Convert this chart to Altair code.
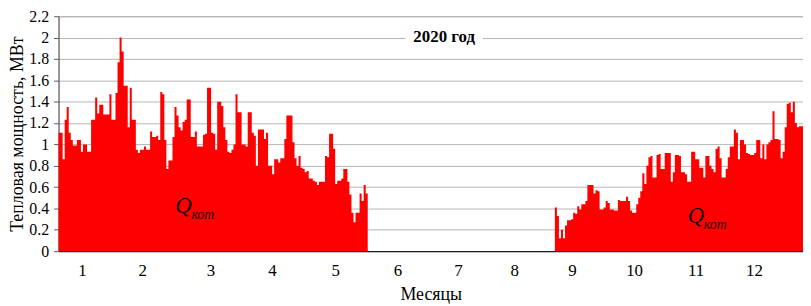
import altair as alt
import pandas as pd

# ---- data (daily heat output, MW, 2020) ----
month_days = [31, 29, 31, 30, 31, 30, 31, 31, 30, 31, 30, 31]

jan = [1.11, 1.11, 0.86, 1.23, 1.35, 1.11, 1.04, 0.99, 0.99, 1.04,
       1.04, 0.93, 1.00, 1.00, 0.93, 0.93, 1.23, 1.23, 1.44, 1.29,
       1.37, 1.37, 1.28, 1.28, 1.28, 1.47, 1.23, 1.23, 1.48, 1.77,
       2.00]
feb = [1.87, 1.55, 1.55, 1.16, 1.53, 1.23, 1.23, 0.95, 0.92,
       0.95, 0.95, 0.98, 0.95, 0.95, 1.12, 1.07, 1.07, 1.08, 1.04,
       1.49, 1.47, 1.04, 0.77, 0.85, 0.85, 1.07, 1.35, 1.27, 1.16]
mar = [1.13, 1.21, 1.23, 1.42, 1.42, 1.07, 1.07, 1.12, 0.98, 0.98,
       0.98, 1.09, 1.10, 1.53, 1.53, 1.11, 1.10, 0.95, 1.40, 1.40,
       1.36, 1.16, 1.04, 0.93, 0.92, 0.95, 1.00, 1.47, 1.30, 1.30,
       1.00]
apr = [1.00, 0.98, 1.30, 1.30, 1.11, 1.08, 0.80, 1.14, 1.14,
       1.14, 1.05, 1.11, 0.80, 0.80, 0.72, 0.86, 0.86, 0.83, 0.87,
       0.87, 1.05, 1.27, 1.27, 1.27, 1.02, 0.87, 0.80, 0.89, 0.78,
       0.77]
may = [0.74, 0.75, 0.68, 0.68, 0.66, 0.65, 0.62, 0.65, 0.65,
       0.65, 0.89, 0.88, 1.10, 1.10, 0.96, 0.63, 0.66, 0.66, 0.68,
       0.77, 0.77, 0.65, 0.53, 0.36, 0.27, 0.36, 0.36, 0.54, 0.47,
       0.62, 0.54]
sep = [0.41, 0.33, 0.12, 0.20, 0.12, 0.24,
       0.29, 0.29, 0.30, 0.36, 0.35, 0.42, 0.39, 0.44, 0.44, 0.47,
       0.62, 0.62, 0.62, 0.54, 0.57, 0.56, 0.39, 0.39, 0.41, 0.47,
       0.45, 0.39, 0.39, 0.38]
oct_ = [0.38, 0.48, 0.47, 0.47, 0.47, 0.51,
        0.47, 0.38, 0.36, 0.36, 0.44, 0.50, 0.56, 0.73, 0.63, 0.80,
        0.88, 0.89, 0.69, 0.69, 0.90, 0.91, 0.77, 0.77, 0.92, 0.92,
        0.92, 0.65, 0.74, 0.90, 0.90]
nov = [0.89, 0.74, 0.74, 0.72, 0.65,
       0.65, 0.93, 0.93, 0.86, 0.86, 0.78, 0.78, 0.69, 0.89, 0.89,
       0.80, 0.77, 0.74, 0.96, 0.98, 0.87, 0.69, 0.69, 0.77, 0.88,
       0.98, 0.98, 1.14, 1.11, 0.86]
dec = [1.04, 1.04, 1.00, 0.92, 0.91,
       0.90, 0.90, 0.92, 1.04, 1.04, 0.87, 1.00, 0.86, 1.00, 1.02,
       1.04, 1.31, 1.05, 1.05, 1.04, 0.87, 0.93, 1.16, 1.38, 1.39,
       1.30, 1.40, 1.20, 1.16, 1.17, 1.17]

heating = {1: jan, 2: feb, 3: mar, 4: apr, 5: may, 9: sep, 10: oct_, 11: nov, 12: dec}
season_of = {1: "spring", 2: "spring", 3: "spring", 4: "spring", 5: "spring",
             9: "autumn", 10: "autumn", 11: "autumn", 12: "autumn"}

month_labels = ["1", "2", "3", "4", "5", "6", "7", "8", "9", "10", "11", "12"]
label_pos = [11.7, 41.4, 74.9, 105.1, 136.2, 166.9, 196.6, 224.3, 252.6, 283.2, 313.4, 342.1]
y_ticks = [0, 0.2, 0.4, 0.6, 0.8, 1.0, 1.2, 1.4, 1.6, 1.8, 2.0, 2.2]

# step-area rows: one per day start, plus a closing row at the end of each season
rows = []
offset = 0
last = {}
for m, nd in enumerate(month_days, start=1):
    vals = heating.get(m, [])
    for d, v in enumerate(vals):
        rows.append({"day": offset + d, "q": v, "season": season_of[m]})
        last[season_of[m]] = (offset + d + 1, v)
    offset += nd
for s, (end_day, v) in last.items():
    rows.append({"day": end_day, "q": v, "season": s})
df = pd.DataFrame(rows).sort_values(["season", "day"])

W, H = 751, 237
FONT = "'Liberation Serif', 'Times New Roman', Times, serif"
x_scale = alt.Scale(domain=[0, 366], nice=False, zero=False)
y_scale = alt.Scale(domain=[0, 2.2], nice=False)

x_axis = alt.Axis(labels=False, ticks=False, grid=False, domainColor="#000000",
                  title="Месяцы", titleFont=FONT, titleFontSize=18, titleFontWeight="normal",
                  titleColor="black", titleY=44, titleBaseline="middle")
y_axis = alt.Axis(values=y_ticks, format=".1~f", labelFont=FONT, labelFontSize=16,
                  labelColor="black", tickSize=5, labelPadding=5, tickColor="#595959",
                  domainColor="#595959", gridColor="#b4b4b4",
                  title="Тепловая мощность, МВт", titleFont=FONT, titleFontSize=18,
                  titleColor="black", titleFontWeight="normal", titleX=-32, titleY=H / 2,
                  titleAlign="center", titleBaseline="bottom", titleAngle=270)

base = alt.Chart(df).mark_area(interpolate="step-after", color="#FF0000", opacity=1).encode(
    x=alt.X("day:Q", scale=x_scale, axis=x_axis),
    y=alt.Y("q:Q", scale=y_scale, axis=y_axis, stack=None),
)
area_spring = base.transform_filter(alt.datum.season == "spring")
area_autumn = base.transform_filter(alt.datum.season == "autumn")

lbl_df = pd.DataFrame({"pos": label_pos, "label": month_labels})
month_text = alt.Chart(lbl_df).mark_text(font=FONT, fontSize=17, baseline="middle", color="black").encode(
    x=alt.X("pos:Q", scale=x_scale, axis=x_axis),
    y=alt.value(H + 20),
    text="label:N",
)

title_df = pd.DataFrame({"t": ["2020 год"]})
title_bg = alt.Chart(title_df).mark_rect(color="white").encode(
    x=alt.value(350), x2=alt.value(428), y=alt.value(12.5), y2=alt.value(30.5)
)
title_txt = alt.Chart(title_df).mark_text(font=FONT, fontSize=17, fontWeight="bold",
                                          baseline="middle", color="black").encode(
    x=alt.value(389), y=alt.value(21.5), text="t:N"
)

q1 = alt.Chart(pd.DataFrame({"t": ["Q"]})).mark_text(font=FONT, fontSize=23, fontStyle="italic",
                                                      baseline="middle", color="#1a0000").encode(
    x=alt.value(126), y=alt.value(192), text="t:N")
q1s = alt.Chart(pd.DataFrame({"t": ["кот"]})).mark_text(font=FONT, fontSize=14, fontStyle="italic",
                                                         align="left", baseline="middle", color="#1a0000").encode(
    x=alt.value(134), y=alt.value(201), text="t:N")
q2 = alt.Chart(pd.DataFrame({"t": ["Q"]})).mark_text(font=FONT, fontSize=23, fontStyle="italic",
                                                      baseline="middle", color="#1a0000").encode(
    x=alt.value(643), y=alt.value(202), text="t:N")
q2s = alt.Chart(pd.DataFrame({"t": ["кот"]})).mark_text(font=FONT, fontSize=14, fontStyle="italic",
                                                         align="left", baseline="middle", color="#1a0000").encode(
    x=alt.value(651), y=alt.value(211), text="t:N")

chart = alt.layer(area_spring, area_autumn, month_text, title_bg, title_txt,
                  q1, q1s, q2, q2s).properties(
    width=W, height=H,
    autosize=alt.AutoSizeParams(type="none"),
    padding={"left": 51, "top": 7, "right": 0, "bottom": 52},
).configure(font=FONT).configure_view(stroke="#a6a6a6", strokeWidth=1)

chart.save("out.html", embed_options={"renderer": "svg", "actions": False})
